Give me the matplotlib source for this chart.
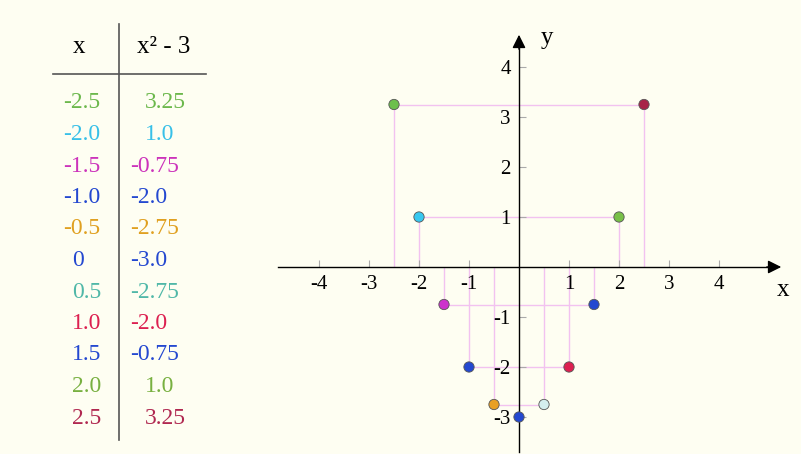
import matplotlib.pyplot as plt

# Dữ liệu bảng và điểm
xs = [-2.5, -2.0, -1.5, -1.0, -0.5, 0.0, 0.5, 1.0, 1.5, 2.0, 2.5]
ys = [3.25, 1.0, -0.75, -2.0, -2.75, -3.0, -2.75, -2.0, -0.75, 1.0, 3.25]
x_text = ['-2.5', '-2.0', '-1.5', '-1.0', '-0.5', '0', '0.5', '1.0', '1.5', '2.0', '2.5']
y_text = ['3.25', '1.0', '-0.75', '-2.0', '-2.75', '-3.0', '-2.75', '-2.0', '-0.75', '1.0', '3.25']
point_colors = ['#6cc04c', '#38c8f0', '#cc33cc', '#2448d0', '#e8a024', '#2448d0',
                '#d4eeee', '#dc2050', '#2448d0', '#78c048', '#a82448']
text_colors = ['#6cb84c', '#38c0e8', '#cc33bb', '#2448d0', '#e0a020', '#2448d0',
               '#50b8a8', '#dc2050', '#2448d0', '#78b040', '#b02850']
xticks = [-4, -3, -2, -1, 1, 2, 3, 4]
yticks = [-3, -2, -1, 1, 2, 3, 4]

bg = '#fefef2'
serif = 'Liberation Serif'

fig = plt.figure(figsize=(8.01, 4.54), dpi=100, facecolor=bg)

# Bảng bên trái (tọa độ pixel)
tab = fig.add_axes([0, 0, 1, 1])
tab.set_xlim(0, 801)
tab.set_ylim(454, 0)
tab.axis('off')
tab.plot([119, 119], [24, 440], color='#555555', lw=1.2)
tab.plot([53, 206], [74, 74], color='#555555', lw=1.2)
tab.text(79, 47, 'x', fontsize=18, family=serif, ha='center', va='center')
tab.text(164, 47, 'x² - 3', fontsize=18, family=serif, ha='center', va='center')
for i, (xt, yt) in enumerate(zip(x_text, y_text)):
    row_y = 103 + 31.5 * i
    tab.text(63 if xt.startswith('-') else 72, row_y, xt, fontsize=17, family=serif,
             color=text_colors[i], ha='left', va='center')
    tab.text(130 if yt.startswith('-') else 145, row_y, yt, fontsize=17, family=serif,
             color=text_colors[i], ha='left', va='center')

# Đồ thị
ax = fig.add_axes([0, 0, 1, 1])
ax.set_facecolor('none')
ax.set_xticks(xticks)
ax.set_yticks(yticks)
ax.set_xlim(-10.38, 5.64)
ax.set_ylim(-3.74, 5.34)
ax.set_xticklabels([str(t) for t in xticks])
ax.set_yticklabels([str(t) for t in yticks])
for s in ['top', 'right']:
    ax.spines[s].set_visible(False)
ax.spines['left'].set_position(('data', 0))
ax.spines['bottom'].set_position(('data', 0))
ax.spines['bottom'].set_bounds(-4.82, 5.0)
ax.spines['left'].set_bounds(-3.7, 4.4)
ax.spines['left'].set_linewidth(1.0)
ax.spines['bottom'].set_linewidth(1.0)
ax.tick_params(axis='both', direction='in', length=5, width=0.8, color='#aaaaaa',
               labelsize=15, labelfontfamily=serif)
ax.tick_params(axis='x', pad=6)
ax.tick_params(axis='y', pad=6)

# mũi tên
ax.annotate('', xy=(5.3, 0), xytext=(4.9, 0),
            arrowprops=dict(arrowstyle='-|>', color='black', lw=1.0, mutation_scale=20))
ax.annotate('', xy=(0, 4.7), xytext=(0, 4.3),
            arrowprops=dict(arrowstyle='-|>', color='black', lw=1.0, mutation_scale=20))
ax.text(5.28, -0.46, 'x', fontsize=18, family=serif, ha='center', va='center')
ax.text(0.56, 4.58, 'y', fontsize=18, family=serif, ha='center', va='center')

# đường dóng
guide = '#f2c2f0'
for x, y in zip(xs, ys):
    if x != 0:
        ax.vlines(x, 0, y, color=guide, lw=1.0, zorder=1)
    if x < 0:
        ax.hlines(y, x, -x, color=guide, lw=1.0, zorder=1)

ax.scatter(xs, ys, s=55, c=point_colors, edgecolors='#555555', linewidths=0.6, zorder=5)

fig.savefig('out.png', dpi=100, facecolor=bg)
